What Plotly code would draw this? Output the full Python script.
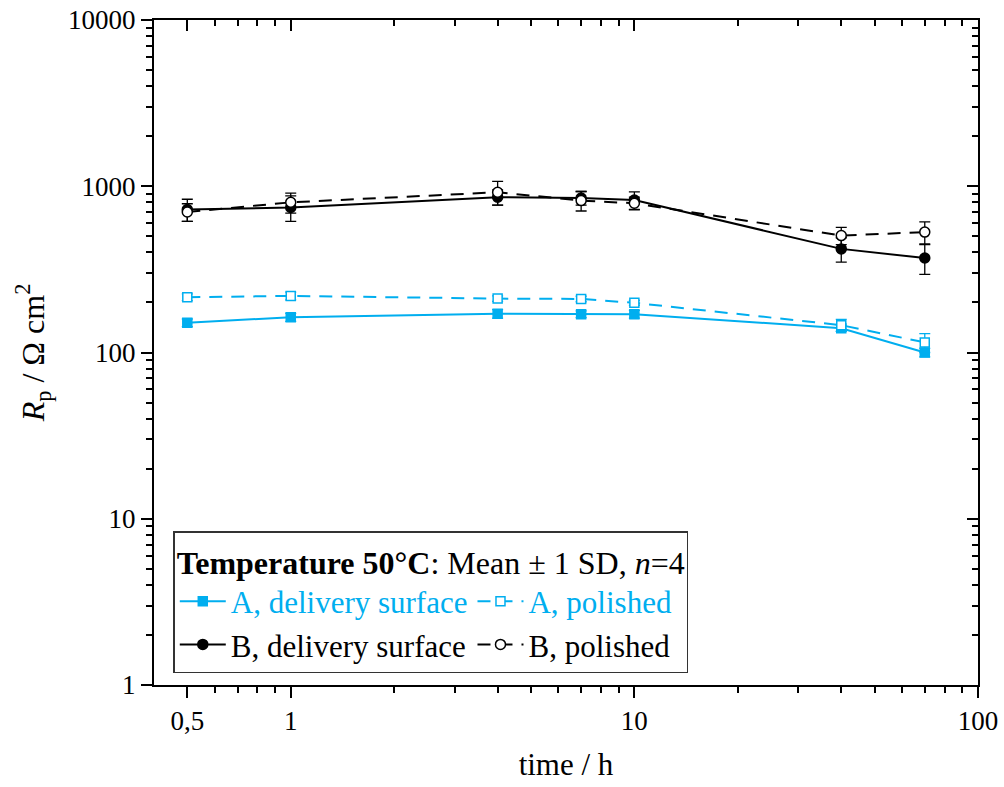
import numpy as np
import plotly.graph_objects as go

time_h = [0.5, 1, 4, 7, 10, 40, 70]
A_del = [151, 163, 171, 170, 170, 140, 100]
A_del_sd = [8, 9, 10, 8, 9, 6, 6]
A_pol = [215, 219, 211, 210, 199, 146, 115]
A_pol_sd = [10, 12, 8, 8, 7, 12, 15]
B_del = [725, 745, 860, 850, 826, 420, 370]
B_del_sd = [110, 130, 90, 80, 100, 70, 75]
B_pol = [700, 800, 920, 820, 790, 505, 530]
B_pol_sd = [85, 110, 150, 110, 70, 60, 80]

x_major = [0.5, 1, 10, 100]
x_major_text = ["0,5", "1", "10", "100"]
x_minor = [0.6, 0.7, 0.8, 0.9, 2, 3, 4, 5, 6, 7, 8, 9, 20, 30, 40, 50, 60, 70, 80, 90]
y_major = [1, 10, 100, 1000, 10000]
y_major_text = ["1", "10", "100", "1000", "10000"]
y_minor = [m * 10 ** d for d in range(0, 4) for m in range(2, 10)]

BLUE = "#00AEEF"
FONT = "Liberation Serif"
TICKFONT = dict(family=FONT, size=27, color="black")
DASH = "13px,9px"

fig = go.Figure()

def add(name, y, sd, color, dash, symbol, fill):
    fig.add_trace(go.Scatter(
        x=time_h, y=y, name=name, mode="lines+markers",
        line=dict(color=color, width=2, dash=dash),
        marker=dict(symbol=symbol, size=9 if "square" in symbol else 10,
                    color=fill, line=dict(color=color, width=1.5)),
        error_y=dict(type="data", array=sd, visible=True, color=color,
                     thickness=1.3, width=5.5),
    ))

add(f"<span style='color:{BLUE}'>A, delivery surface</span>", A_del, A_del_sd, BLUE, "solid", "square", BLUE)
add(f"<span style='color:{BLUE}'>A, polished</span>", A_pol, A_pol_sd, BLUE, DASH, "square", "white")
add("B, delivery surface", B_del, B_del_sd, "black", "solid", "circle", "black")
add("B, polished", B_pol, B_pol_sd, "black", DASH, "circle", "white")

# invisible trace so that the mirrored (top/right) axes are drawn
fig.add_trace(go.Scatter(x=time_h, y=A_del, xaxis="x2", yaxis="y2", mode="lines",
                         opacity=0, showlegend=False, hoverinfo="skip"))

xr = [np.log10(0.4), 2]
yr = [0, 4]

common = dict(showgrid=False, zeroline=False, showline=True, linecolor="black",
              linewidth=2, tickcolor="black", tickwidth=1.5, automargin=False,
              tickfont=TICKFONT)

fig.update_layout(
    width=1004, height=787,
    margin=dict(l=154, r=26, t=20, b=102),
    plot_bgcolor="white", paper_bgcolor="white",
    font=dict(family=FONT, size=27, color="black"),
    xaxis=dict(type="log", range=xr, tickmode="array", tickvals=x_major,
               ticktext=x_major_text, ticks="outside", ticklen=11,
               minor=dict(tickmode="array", tickvals=x_minor, ticks="outside",
                          ticklen=6, tickwidth=1.5, tickcolor="black", showgrid=False),
               title=dict(text="time / h", font=dict(family=FONT, size=31), standoff=18),
               **common),
    yaxis=dict(type="log", range=yr, tickmode="array", tickvals=y_major,
               ticktext=y_major_text, ticks="outside", ticklen=11,
               minor=dict(tickmode="array", tickvals=y_minor, ticks="outside",
                          ticklen=6, tickwidth=1.5, tickcolor="black", showgrid=False),
               title=dict(text="<i>R</i><sub>p</sub> / Ω cm<sup>2</sup>",
                          font=dict(family=FONT, size=32), standoff=14),
               **common),
    xaxis2=dict(type="log", range=xr, overlaying="x", side="top", anchor="y",
                tickmode="array", tickvals=x_major, ticks="inside", ticklen=11,
                showticklabels=False,
                minor=dict(tickmode="array", tickvals=x_minor, ticks="inside",
                           ticklen=6, tickwidth=1.5, tickcolor="black", showgrid=False),
                **common),
    yaxis2=dict(type="log", range=yr, overlaying="y", side="right", anchor="x2",
                tickmode="array", tickvals=y_major, ticks="inside", ticklen=11,
                showticklabels=False,
                minor=dict(tickmode="array", tickvals=y_minor, ticks="inside",
                           ticklen=6, tickwidth=1.5, tickcolor="black", showgrid=False),
                **common),
    legend=dict(
        x=0.0234, y=0.231, xanchor="left", yanchor="top",
        orientation="h",
        itemwidth=46, bgcolor="white", bordercolor="#333333", borderwidth=1.5,
        font=dict(family=FONT, size=31, color="black"),
        title=dict(text="<b>Temperature 50°C</b>: Mean ± 1 SD, <i>n</i>=4",
                   side="top", font=dict(family=FONT, size=32)),
        tracegroupgap=0,
    ),
    showlegend=True,
)

fig.write_html("out.html")
